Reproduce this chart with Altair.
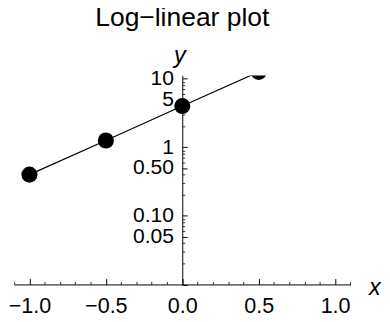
import altair as alt
import pandas as pd

# data
x_vals = [-1.0, -0.5, 0.0, 0.5]
y_vals = [0.40, 1.26, 4.0, 12.6]

x_major = [-1.0, -0.5, 0.0, 0.5, 1.0]
x_minor = [-1.1, -0.9, -0.8, -0.7, -0.6, -0.4, -0.3, -0.2, -0.1,
           0.1, 0.2, 0.3, 0.4, 0.6, 0.7, 0.8, 0.9, 1.1]
y_labels = [0.05, 0.1, 0.5, 1, 5, 10]
y_major = [0.01, 0.05, 0.1, 0.5, 1, 5, 10]
y_minor = [0.02, 0.03, 0.04, 0.06, 0.07, 0.08, 0.09,
           0.2, 0.3, 0.4, 0.6, 0.7, 0.8, 0.9,
           2, 3, 4, 6, 7, 8, 9]

df = pd.DataFrame({"x": x_vals, "y": y_vals})

W = 343.4
H = 213.5
FONT = "Liberation Sans"
LBL = 21.5

xs = alt.Scale(domain=[-1.1, 1.1], nice=False, zero=False)
ys = alt.Scale(type="log", domain=[0.01, 11.2], nice=False)
Y_OFF = -(W / 2)

base = alt.Chart(df)

line = base.mark_line(color="black", strokeWidth=1.2, clip=True).encode(
    x=alt.X("x:Q", scale=xs, axis=alt.Axis(
        orient="bottom", values=x_major, format=".1f", domain=False, ticks=False,
        grid=False, labelFontSize=22, labelFont=FONT, labelColor="black",
        labelPadding=12, labelOverlap=False,
        title="x", titleFont=FONT, titleFontSize=24,
        titleFontStyle="italic", titleFontWeight="normal", titleAngle=0,
        titleAlign="center", titleBaseline="alphabetic", titleX=368, titleY=10)),
    y=alt.Y("y:Q", scale=ys, axis=alt.Axis(
        orient="left", offset=Y_OFF, values=y_labels, domain=False, ticks=False,
        grid=False, labelFontSize=LBL, labelFont=FONT, labelColor="black",
        labelPadding=9, labelOverlap=False,
        labelExpr="datum.value >= 1 ? format(datum.value, 'd') : format(datum.value, '.2f')",
        title="y", titleFont=FONT, titleFontSize=24, titleFontStyle="italic",
        titleFontWeight="normal", titleAngle=0, titleAlign="center",
        titleBaseline="alphabetic", titleX=-3, titleY=-13)),
)

points = base.mark_circle(size=270, color="black", opacity=1, clip=True).encode(
    x=alt.X("x:Q", scale=xs, axis=None),
    y=alt.Y("y:Q", scale=ys, axis=None),
)

major = base.mark_point(opacity=0).encode(
    x=alt.X("x:Q", scale=xs, axis=alt.Axis(
        orient="top", offset=-H, values=x_major, labels=False, grid=False,
        tickSize=6, tickColor="black", domainColor="black", tickWidth=1,
        domainWidth=1, title=None)),
    y=alt.Y("y:Q", scale=ys, axis=alt.Axis(
        orient="right", offset=-(W + Y_OFF), values=y_major, labels=False,
        grid=False, tickSize=5, tickColor="black", domainColor="black",
        tickWidth=1, domainWidth=1, title=None)),
)

minor = base.mark_point(opacity=0).encode(
    x=alt.X("x:Q", scale=xs, axis=alt.Axis(
        orient="top", offset=-H, values=x_minor, labels=False, grid=False,
        domain=False, tickSize=3, tickColor="black", tickWidth=0.8, title=None)),
    y=alt.Y("y:Q", scale=ys, axis=alt.Axis(
        orient="right", offset=-(W + Y_OFF), values=y_minor, labels=False,
        grid=False, domain=False, tickSize=2.5, tickColor="black",
        tickWidth=0.8, title=None)),
)

chart = alt.layer(line, points, major, minor).resolve_axis(
    x="independent", y="independent"
).properties(
    width=W, height=H,
    title=alt.TitleParams("Log\u2212linear plot", font=FONT, fontSize=27,
                          fontWeight="normal", color="black", anchor="middle",
                          offset=12),
    autosize=alt.AutoSizeParams(type="none"),
    padding={"left": 6.3, "top": 65.5, "right": 32.3, "bottom": 35},
).configure_view(stroke=None)

chart.save("out.html", embed_options={"renderer": "svg", "actions": False})
